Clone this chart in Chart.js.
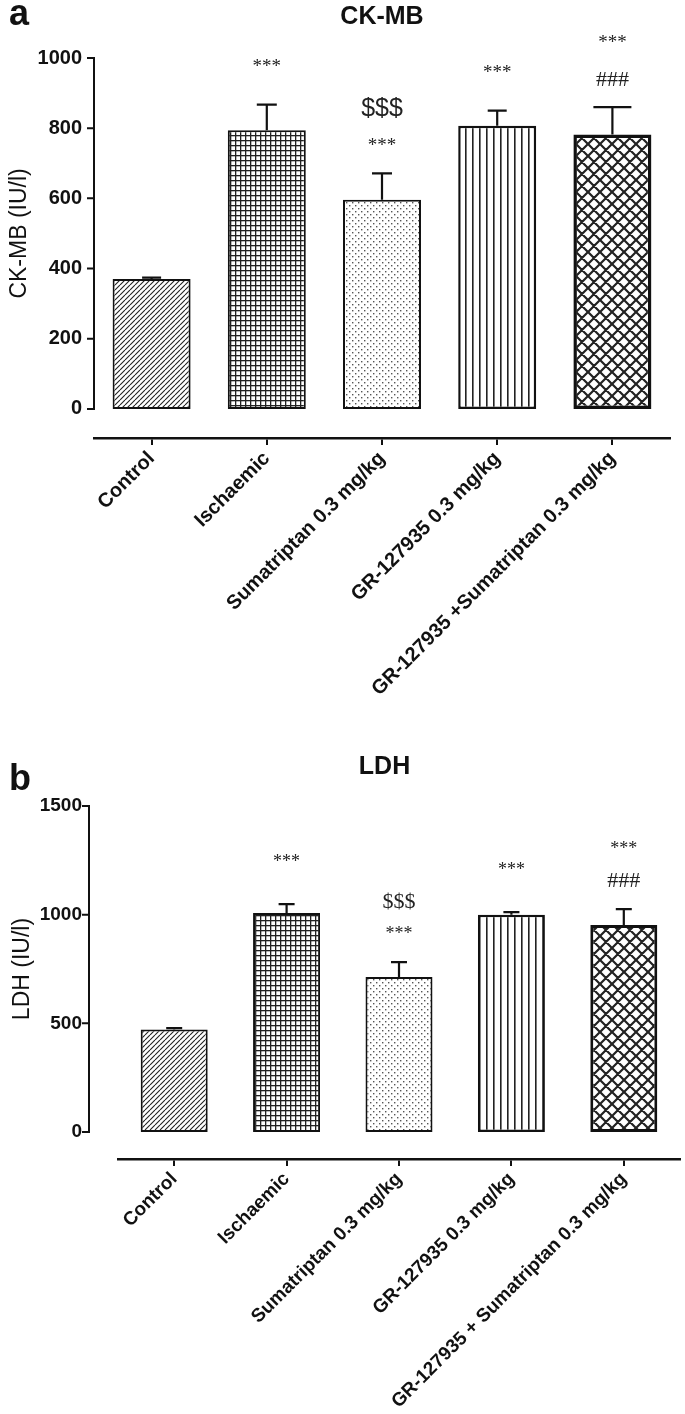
<!DOCTYPE html>
<html>
<head>
<meta charset="utf-8">
<script src="https://cdn.jsdelivr.net/npm/chart.js@4.4.1/dist/chart.umd.min.js"></script>
<style>
  body { margin: 0; background: #fff; }
  .panel { position: absolute; left: 0; width: 685px; }
  #panelA { top: 0; height: 720px; }
  #panelB { top: 720px; height: 694px; }
</style>
</head>
<body>
<div class="panel" id="panelA"><canvas id="chartA"></canvas></div>
<div class="panel" id="panelB"><canvas id="chartB"></canvas></div>
<script>
'use strict';

//////////////////////
// data
//////////////////////

const groupsA = ['Control', 'Ischaemic', 'Sumatriptan 0.3 mg/kg', 'GR-127935 0.3 mg/kg', 'GR-127935 +Sumatriptan 0.3 mg/kg'];
const groupsB = ['Control', 'Ischaemic', 'Sumatriptan 0.3 mg/kg', 'GR-127935 0.3 mg/kg', 'GR-127935 + Sumatriptan 0.3 mg/kg'];

const ckmbMean = [370, 794, 596, 807, 782];
const ckmbSem = [4, 73, 75, 43, 78];
const ckmbTicks = [0, 200, 400, 600, 800, 1000];
const ckmbMarks = [[], ['***'], ['***', '$$$'], ['***'], ['###', '***']];

const ldhMean = [472, 1008, 713, 1000, 953];
const ldhSem = [6, 41, 69, 12, 73];
const ldhTicks = [0, 500, 1000, 1500];
const ldhMarks = [[], ['***'], ['***', '$$$'], ['***'], ['###', '***']];

//////////////////////
// fill patterns
//////////////////////

function makePattern(kind) {
    const c = document.createElement('canvas');
    const g = c.getContext('2d');
    const sizes = { diag: 5, grid: 5, dots: 6, vert: 7, diamond: 12 };
    const s = sizes[kind];
    c.width = s;
    c.height = s;
    g.fillStyle = '#fff';
    g.fillRect(0, 0, s, s);
    g.fillStyle = '#222';
    g.strokeStyle = '#222';

    if (kind === 'diag') {
        g.lineWidth = 1.1;
        g.beginPath();
        for (let d of [-s, 0, s]) {
            g.moveTo(d, s);
            g.lineTo(d + s, 0);
        }
        g.stroke();
    } else if (kind === 'grid') {
        g.fillRect(0, 0, s, 1.3);
        g.fillRect(0, 0, 1.3, s);
    } else if (kind === 'dots') {
        g.fillStyle = '#555';
        g.fillRect(1, 1, 1.4, 1.4);
        g.fillRect(4, 4, 1.4, 1.4);
    } else if (kind === 'vert') {
        g.fillRect(3, 0, 1.6, s);
    } else if (kind === 'diamond') {
        g.lineWidth = 2.2;
        g.beginPath();
        for (let d of [-s, 0, s]) {
            g.moveTo(d, 0);
            g.lineTo(d + s, s);
            g.moveTo(d + s, 0);
            g.lineTo(d, s);
        }
        g.stroke();
    }
    return g.createPattern(c, 'repeat');
}

const fills = ['diag', 'grid', 'dots', 'vert', 'diamond'].map(makePattern);

//////////////////////
// extras: y axis, error bars, marks, titles
//////////////////////

const panelExtras = {
    id: 'panelExtras',
    afterDatasetsDraw(chart) {
        const o = chart.options.plugins.panelExtras;
        const ctx = chart.ctx;
        const y = chart.scales.y;
        const means = chart.data.datasets[0].data;
        const meta = chart.getDatasetMeta(0);
        ctx.save();
        ctx.strokeStyle = '#111';
        ctx.lineWidth = 2.2;
        meta.data.forEach((bar, i) => {
            const top = y.getPixelForValue(means[i] + o.sem[i]);
            const half = o.capWidths[i] / 2;
            ctx.beginPath();
            ctx.moveTo(bar.x, bar.y);
            ctx.lineTo(bar.x, top);
            ctx.moveTo(bar.x - half, top);
            ctx.lineTo(bar.x + half, top);
            ctx.stroke();
        });
        ctx.restore();
    },
    afterDraw(chart) {
        const o = chart.options.plugins.panelExtras;
        const ctx = chart.ctx;
        const area = chart.chartArea;
        const y = chart.scales.y;
        const axisX = area.left - o.axisGap;
        const y0 = y.getPixelForValue(0);
        const yTop = y.getPixelForValue(y.max);

        ctx.save();
        ctx.strokeStyle = '#111';
        ctx.lineWidth = 2;
        ctx.beginPath();
        ctx.moveTo(axisX, y0 + 1);
        ctx.lineTo(axisX, yTop - 1);
        for (let t of y.ticks) {
            const py = y.getPixelForValue(t.value);
            ctx.moveTo(axisX - 7, py);
            ctx.lineTo(axisX + 1, py);
        }
        ctx.stroke();

        ctx.fillStyle = '#111';
        ctx.textAlign = 'center';
        ctx.textBaseline = 'middle';

        // chart title
        ctx.font = 'bold 25px "Liberation Sans", Arial, sans-serif';
        ctx.fillText(o.title, (axisX + area.right) / 2, o.titleY);

        // panel letter
        ctx.textAlign = 'left';
        ctx.textBaseline = 'alphabetic';
        ctx.font = 'bold 36px "Liberation Sans", Arial, sans-serif';
        ctx.fillText(o.letter, 9, o.letterY);

        // significance marks
        ctx.textAlign = 'center';
        ctx.textBaseline = 'middle';
        ctx.fillStyle = '#222';
        const means = chart.data.datasets[0].data;
        const meta = chart.getDatasetMeta(0);
        meta.data.forEach((bar, i) => {
            const top = y.getPixelForValue(means[i] + o.sem[i]);
            const lines = o.marks[i];
            lines.forEach((txt, k) => {
                const gap = lines.length === 1 ? o.markGap[0] : o.markGap[k + 1];
                ctx.font = o.markFonts[txt];
                ctx.fillText(txt, bar.x, top - gap);
            });
        });

        // y axis title
        ctx.fillStyle = '#111';
        ctx.font = '23px "Liberation Sans", Arial, sans-serif';
        ctx.translate(o.yTitleX, (y0 + yTop) / 2);
        ctx.rotate(-Math.PI / 2);
        ctx.fillText(o.yTitle, 0, 0);
        ctx.restore();
    }
};

//////////////////////
// chart builder
//////////////////////

function buildChart(canvasId, p) {
    const config = {
        type: 'bar',
        data: {
            labels: p.labels,
            datasets: [{
                data: p.means,
                backgroundColor: fills,
                borderColor: '#111',
                borderWidth: p.borderWidths,
                borderSkipped: false,
                barPercentage: p.barPct,
                categoryPercentage: 1
            }]
        },
        options: {
            responsive: true,
            maintainAspectRatio: false,
            animation: false,
            layout: { padding: { top: p.top, right: p.right, bottom: 0, left: 0 } },
            plugins: {
                legend: { display: false },
                tooltip: { enabled: false },
                panelExtras: p.extras
            },
            scales: {
                x: {
                    grid: { offset: false, drawOnChartArea: false, tickLength: 7, color: '#111', lineWidth: 2 },
                    border: { color: '#111', width: 2.5 },
                    ticks: {
                        color: '#111',
                        font: { size: p.xFont, weight: 'bold' },
                        minRotation: 45,
                        maxRotation: 45,
                        autoSkip: false,
                        padding: 2
                    },
                    afterFit: (s) => { s.height = p.xHeight; }
                },
                y: {
                    min: p.min,
                    max: p.ticks[p.ticks.length - 1],
                    grid: { display: false, drawTicks: false },
                    border: { display: false },
                    ticks: {
                        color: '#111',
                        font: { size: p.yFont, weight: 'bold' },
                        padding: p.yPad,
                        callback: (v) => String(v)
                    },
                    afterBuildTicks: (s) => { s.ticks = p.ticks.map(v => ({ value: v })); },
                    afterFit: (s) => { s.width = p.left; }
                }
            }
        },
        plugins: [panelExtras]
    };
    return new Chart(document.getElementById(canvasId), config);
}

Chart.defaults.font.family = '"Liberation Sans", Arial, sans-serif';

buildChart('chartA', {
    labels: groupsA,
    means: ckmbMean,
    ticks: ckmbTicks,
    min: -83,
    top: 58,
    right: 15,
    left: 94,
    xHeight: 282,
    xFont: 20,
    yFont: 20,
    yPad: 12,
    barPct: 0.677,
    borderWidths: [2, 2, 2, 2.5, 3.5],
    extras: {
        letter: 'a',
        letterY: 25,
        title: 'CK-MB',
        titleY: 17,
        yTitle: 'CK-MB (IU/l)',
        yTitleX: 20,
        axisGap: 0,
        sem: ckmbSem,
        marks: ckmbMarks,
        capWidths: [19, 20, 20, 19, 38],
        markGap: [38, 27, 64],
        markFonts: {
            '***': '19px "Liberation Serif", "Times New Roman", serif',
            '$$$': '25px "Liberation Sans", Arial, sans-serif',
            '###': '22px "Liberation Serif", "Times New Roman", serif'
        }
    }
});

buildChart('chartB', {
    labels: groupsB,
    means: ldhMean,
    ticks: ldhTicks,
    min: -124,
    top: 86,
    right: 5,
    left: 118,
    xHeight: 255,
    xFont: 19,
    yFont: 19,
    yPad: 36,
    barPct: 0.596,
    borderWidths: [2, 2, 2, 2.5, 3],
    extras: {
        letter: 'b',
        letterY: 70,
        title: 'LDH',
        titleY: 47,
        yTitle: 'LDH (IU/l)',
        yTitleX: 23,
        axisGap: 29,
        sem: ldhSem,
        marks: ldhMarks,
        capWidths: [16, 16, 16, 16, 16],
        markGap: [42, 28, 60],
        markFonts: {
            '***': '18px "Liberation Serif", "Times New Roman", serif',
            '$$$': '22px "Liberation Serif", "Times New Roman", serif',
            '###': '22px "Liberation Serif", "Times New Roman", serif'
        }
    }
});
</script>
</body>
</html>
